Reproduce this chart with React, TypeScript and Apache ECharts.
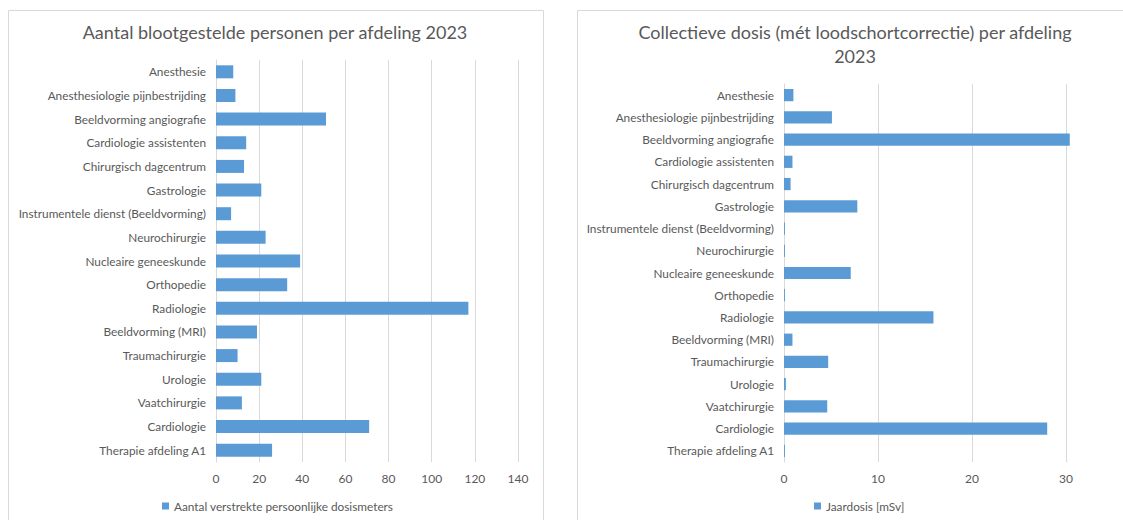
import React, { useEffect, useRef } from "react";
import * as echarts from "echarts";

const categories = [
  "Anesthesie",
  "Anesthesiologie pijnbestrijding",
  "Beeldvorming angiografie",
  "Cardiologie assistenten",
  "Chirurgisch dagcentrum",
  "Gastrologie",
  "Instrumentele dienst (Beeldvorming)",
  "Neurochirurgie",
  "Nucleaire geneeskunde",
  "Orthopedie",
  "Radiologie",
  "Beeldvorming (MRI)",
  "Traumachirurgie",
  "Urologie",
  "Vaatchirurgie",
  "Cardiologie",
  "Therapie afdeling A1",
];

const persons = [8, 9, 51, 14, 13, 21, 7, 23, 39, 33, 117, 19, 10, 21, 12, 71, 26];
const dose = [1.0, 5.1, 30.4, 0.9, 0.7, 7.8, 0.1, 0.1, 7.1, 0.1, 15.9, 0.9, 4.7, 0.2, 4.6, 28.0, 0.1];

const titleLeft = "Aantal blootgestelde personen per afdeling 2023";
const titleRight1 = "Collectieve dosis (mét loodschortcorrectie) per afdeling";
const titleRight2 = "2023";
const seriesLeft = "Aantal verstrekte persoonlijke dosismeters";
const seriesRight = "Jaardosis [mSv]";

const FONT = "Lato";
const TXT = "#595959";
const GRID = "#D9D9D9";
const BAR = "#5B9BD5";

export default function App() {
  const ref = useRef<HTMLDivElement>(null);
  useEffect(() => {
    if (!ref.current) return;
    const chart = echarts.init(ref.current, undefined, { renderer: "svg" });
    const catAxis = (gridIndex: number) => ({
      type: "category",
      gridIndex,
      data: categories,
      inverse: true,
      axisTick: { show: false },
      axisLine: { show: true, lineStyle: { color: GRID } },
      axisLabel: { color: TXT, fontFamily: FONT, fontSize: 11.8, margin: 10 },
    });
    const valAxis = (gridIndex: number, max: number, interval: number) => ({
      type: "value",
      gridIndex,
      min: 0,
      max,
      interval,
      axisLine: { show: false },
      axisTick: { show: false },
      axisLabel: {
        color: TXT,
        fontFamily: FONT,
        fontSize: 12,
        margin: 10,
        showMaxLabel: max % interval === 0,
      },
      splitLine: { show: true, lineStyle: { color: GRID }, showMaxLine: max % interval === 0 },
    });
    chart.setOption({
      animation: false,
      backgroundColor: "#ffffff",
      textStyle: { fontFamily: FONT },
      graphic: [
        { type: "rect", shape: { x: 8.5, y: 10.5, width: 535, height: 530 }, style: { fill: "none", stroke: GRID, lineWidth: 1 } },
        { type: "rect", shape: { x: 577.5, y: 10.5, width: 570, height: 530 }, style: { fill: "none", stroke: GRID, lineWidth: 1 } },
        { type: "text", x: 275, y: 32, style: { text: titleLeft, fill: TXT, font: `18px ${FONT}`, textAlign: "center", textVerticalAlign: "middle" } },
        { type: "text", x: 855, y: 32, style: { text: titleRight1, fill: TXT, font: `18px ${FONT}`, textAlign: "center", textVerticalAlign: "middle" } },
        { type: "text", x: 855, y: 56, style: { text: titleRight2, fill: TXT, font: `18px ${FONT}`, textAlign: "center", textVerticalAlign: "middle" } },
      ],
      grid: [
        { left: 216, top: 60, width: 302, height: 402 },
        { left: 784, top: 84, width: 329, height: 378 },
      ],
      xAxis: [valAxis(0, 140, 20), valAxis(1, 35, 10)],
      yAxis: [catAxis(0), catAxis(1)],
      legend: [
        {
          data: [seriesLeft],
          left: 162,
          top: 500,
          padding: 0,
          icon: "rect",
          itemWidth: 7,
          itemHeight: 7,
          itemGap: 5,
          textStyle: { color: TXT, fontFamily: FONT, fontSize: 11.8 },
        },
        {
          data: [seriesRight],
          left: 814,
          top: 500,
          padding: 0,
          icon: "rect",
          itemWidth: 7,
          itemHeight: 7,
          itemGap: 5,
          textStyle: { color: TXT, fontFamily: FONT, fontSize: 11.8 },
        },
      ],
      series: [
        {
          name: seriesLeft,
          type: "bar",
          xAxisIndex: 0,
          yAxisIndex: 0,
          data: persons,
          barCategoryGap: "45%",
          itemStyle: { color: BAR },
        },
        {
          name: seriesRight,
          type: "bar",
          xAxisIndex: 1,
          yAxisIndex: 1,
          data: dose,
          barCategoryGap: "45%",
          itemStyle: { color: BAR },
        },
      ],
    });
    return () => chart.dispose();
  }, []);
  return (
    <div
      ref={ref}
      style={{ position: "fixed", left: 0, top: 0, width: 1123, height: 520, background: "#fff" }}
    />
  );
}
